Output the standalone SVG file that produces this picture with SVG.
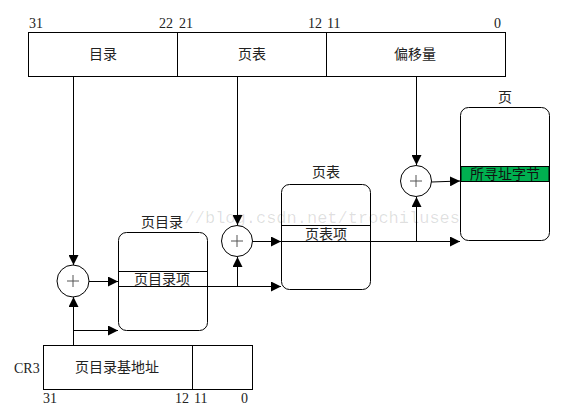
<svg xmlns="http://www.w3.org/2000/svg" width="580" height="414" viewBox="0 0 580 414">
<style>
.b{fill:#fff;stroke:#000;stroke-width:1}
.l{stroke:#000;stroke-width:1;fill:none}
.t{font-family:"Liberation Serif","Noto Sans CJK SC",serif;font-size:14px;fill:#222;text-anchor:middle}
.n{font-family:"Liberation Serif",serif;font-size:14px;fill:#222}
.c{fill:#fff;stroke:#000;stroke-width:1}
.p{stroke:#555;stroke-width:1}
</style>
<defs>
<marker id="a" viewBox="0 0 10 10" refX="10" refY="5" markerWidth="10" markerHeight="10" markerUnits="userSpaceOnUse" orient="auto">
<path d="M0,0L10,5L0,10z" fill="#000"/>
</marker>
</defs>
<rect width="580" height="414" fill="#fff"/>

<g id="linear-address">
<rect class="b" x="28.5" y="32.5" width="477" height="44"/>
<line class="l" x1="177.5" y1="32" x2="177.5" y2="76"/>
<line class="l" x1="326.5" y1="32" x2="326.5" y2="76"/>
<text class="t" x="103" y="59">目录</text>
<text class="t" x="252" y="59">页表</text>
<text class="t" x="415" y="59">偏移量</text>
<text class="n" x="29" y="28">31</text>
<text class="n" x="159" y="28">22</text>
<text class="n" x="179" y="28">21</text>
<text class="n" x="308" y="28">12</text>
<text class="n" x="327" y="28">11</text>
<text class="n" x="494" y="28">0</text>
</g>

<g id="page-directory">
<text class="t" x="162" y="227">页目录</text>
<rect class="b" x="118.5" y="232.5" width="89" height="98" rx="8"/>
<line class="l" x1="118" y1="271.5" x2="207" y2="271.5"/>
<line class="l" x1="118" y1="286.5" x2="207" y2="286.5"/>
<text class="t" x="162" y="284">页目录项</text>
</g>

<g id="page-table">
<text class="t" x="326" y="177">页表</text>
<rect class="b" x="281.5" y="184.5" width="89" height="105" rx="8"/>
<line class="l" x1="281" y1="225.5" x2="370" y2="225.5"/>
<line class="l" x1="281" y1="241.5" x2="370" y2="241.5"/>
<text class="t" x="326" y="239">页表项</text>
</g>

<g id="page">
<text class="t" x="505" y="102">页</text>
<rect class="b" x="460.5" y="107.5" width="89" height="133" rx="8"/>
<rect x="461" y="166.5" width="88" height="15" fill="#00b050" stroke="#000" stroke-width="1"/>
<text class="t" x="505" y="179" style="fill:#111">所寻址字节</text>
</g>

<g id="cr3">
<text class="n" x="14" y="373">CR3</text>
<rect class="b" x="43.5" y="345.5" width="209" height="44"/>
<line class="l" x1="192.5" y1="345" x2="192.5" y2="389"/>
<text class="t" x="117" y="372">页目录基地址</text>
<text class="n" x="43" y="403">31</text>
<text class="n" x="175" y="403">12</text>
<text class="n" x="194" y="403">11</text>
<text class="n" x="241" y="403">0</text>
</g>

<g id="adder1">
<circle class="c" cx="73" cy="281" r="16"/>
<line class="p" x1="67" y1="281" x2="79" y2="281"/><line class="p" x1="73" y1="275" x2="73" y2="287"/>
</g>
<g id="adder2">
<circle class="c" cx="237" cy="241" r="15.5"/>
<line class="p" x1="231" y1="241" x2="243" y2="241"/><line class="p" x1="237" y1="235" x2="237" y2="247"/>
</g>
<g id="adder3">
<circle class="c" cx="416" cy="181" r="15.5"/>
<line class="p" x1="410" y1="181" x2="422" y2="181"/><line class="p" x1="416" y1="175" x2="416" y2="187"/>
</g>

<g id="connectors" class="l">
<line x1="73.5" y1="76" x2="73.5" y2="265" marker-end="url(#a)"/>
<line x1="237.5" y1="76" x2="237.5" y2="225" marker-end="url(#a)"/>
<line x1="416.5" y1="76" x2="416.5" y2="165" marker-end="url(#a)"/>
<line x1="73.5" y1="345" x2="73.5" y2="297" marker-end="url(#a)"/>
<polyline points="73.5,330.5 118,330.5" marker-end="url(#a)"/>
<line x1="89" y1="281.5" x2="118" y2="281.5" marker-end="url(#a)"/>
<line x1="207" y1="286.5" x2="281" y2="286.5" marker-end="url(#a)"/>
<line x1="237.5" y1="286" x2="237.5" y2="257" marker-end="url(#a)"/>
<line x1="252.5" y1="241.5" x2="281" y2="241.5" marker-end="url(#a)"/>
<line x1="370" y1="241.5" x2="460" y2="241.5" marker-end="url(#a)"/>
<line x1="416.5" y1="241" x2="416.5" y2="197" marker-end="url(#a)"/>
<line x1="431.5" y1="182" x2="460" y2="181" marker-end="url(#a)"/>
</g>

<text x="460" y="223" text-anchor="end" font-family="Liberation Mono, monospace" font-size="17" fill="#000" fill-opacity="0.13">//blog.csdn.net/trochiluses</text>
</svg>
